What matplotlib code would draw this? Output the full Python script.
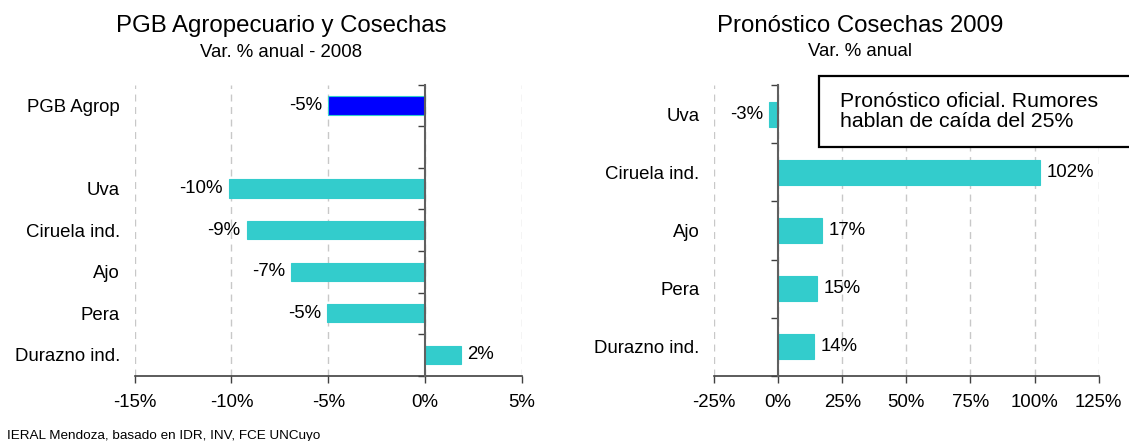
import numpy as np
import matplotlib
matplotlib.use("Agg")
import matplotlib.pyplot as plt
from matplotlib.patches import Rectangle
from matplotlib.ticker import FixedLocator

plt.rcParams['font.family'] = ['Liberation Sans', 'DejaVu Sans']

# ---- data ----
left_labels = ["PGB Agrop", "", "Uva", "Ciruela ind.", "Ajo", "Pera", "Durazno ind."]
left_values = [-5.0, np.nan, -10.15, -9.2, -6.9, -5.05, 1.85]
left_colors = ["#0000FF", "#33CCCC", "#33CCCC", "#33CCCC", "#33CCCC", "#33CCCC", "#33CCCC"]
left_xticks = [-15, -10, -5, 0, 5]

right_labels = ["Uva", "Ciruela ind.", "Ajo", "Pera", "Durazno ind."]
right_values = [-3.4, 102.3, 17.2, 15.3, 14.0]
right_xticks = [-25, 0, 25, 50, 75, 100, 125]

left_title = "PGB Agropecuario y Cosechas"
left_subtitle = "Var. % anual - 2008"
right_title = "Pronóstico Cosechas 2009"
right_subtitle = "Var. % anual"
note_text = "Pronóstico oficial. Rumores\nhablan de caída del 25%"
source_text = "IERAL Mendoza, basado en IDR, INV, FCE UNCuyo"

W, H = 1129, 441
fig = plt.figure(figsize=(W / 100, H / 100), dpi=100)

FS = 13.4
CYAN = "#33CCCC"


def px_rect(x0, x1, ytop, ybot):
    return [x0 / W, (H - ybot) / H, (x1 - x0) / W, (ybot - ytop) / H]


def draw_panel(ax, labels, values, colors, xticks, bar_h):
    n = len(labels)
    y = np.arange(n)
    ax.barh(y, values, height=bar_h, color=colors, edgecolor=CYAN,
            linewidth=0.8, zorder=2)
    ax.set_xlim(xticks[0], xticks[-1])
    ax.set_ylim(n - 0.5, -0.5)
    ax.set_xticks(xticks)
    ax.set_xticklabels([f"{t}%" for t in xticks])
    ax.set_yticks(y)
    ax.set_yticklabels(labels)
    ax.tick_params(axis='y', length=0, pad=10.5, labelsize=FS)
    ax.tick_params(axis='x', length=5, width=1.0, direction='out',
                   color='#404040', pad=8, labelsize=FS)
    for s in ['top', 'right', 'left']:
        ax.spines[s].set_visible(False)
    ax.spines['bottom'].set_color('#404040')
    ax.spines['bottom'].set_linewidth(1.2)
    ax.grid(axis='x', linestyle=(0, (5, 4)), color='#c8c8c8', linewidth=1.0, zorder=0)
    ax.set_axisbelow(True)
    # zero line with category boundary ticks
    loc = (0 - xticks[0]) / (xticks[-1] - xticks[0])
    sec = ax.secondary_yaxis(loc)
    sec.set_alignment('left')
    sec.yaxis.set_major_locator(FixedLocator(np.arange(n + 1) - 0.5))
    sec.tick_params(axis='y', which='both', length=5, width=1.0, direction='out',
                    color='#404040', left=True, right=False,
                    labelleft=False, labelright=False)
    for s in ['left', 'right']:
        sec.spines[s].set_color('#606060')
        sec.spines[s].set_linewidth(1.5)
    sec.set_zorder(5)
    # value labels
    for yi, v in zip(y, values):
        if np.isnan(v):
            continue
        if v < 0:
            ax.annotate(f"{round(v):.0f}%", (v, yi), xytext=(-4.5, 0),
                        textcoords='offset points', ha='right', va='center',
                        fontsize=FS)
        else:
            ax.annotate(f"{round(v):.0f}%", (v, yi), xytext=(4.5, 0),
                        textcoords='offset points', ha='left', va='center',
                        fontsize=FS)


axL = fig.add_axes(px_rect(134.7, 521.7, 84.7, 375.7))
draw_panel(axL, left_labels, left_values, left_colors, left_xticks, 0.44)

axR = fig.add_axes(px_rect(714, 1098.7, 85, 376))
draw_panel(axR, right_labels, right_values, [CYAN] * len(right_labels),
           right_xticks, 0.43)

# titles
fig.text(281 / W, (H - 32.3) / H, left_title, ha='center', va='baseline', fontsize=17.3)
fig.text(281 / W, (H - 57.3) / H, left_subtitle, ha='center', va='baseline', fontsize=FS)
fig.text(860 / W, (H - 31.7) / H, right_title, ha='center', va='baseline', fontsize=17.3)
fig.text(860 / W, (H - 56.5) / H, right_subtitle, ha='center', va='baseline', fontsize=FS)

# note box
box = Rectangle((819 / W, (H - 147.3) / H), (1135 - 819) / W, (147.3 - 75.7) / H,
                transform=fig.transFigure, facecolor='white', edgecolor='black',
                linewidth=1.6, zorder=10)
fig.patches.append(box)
fig.text(840 / W, (H - 111.5) / H, note_text, ha='left', va='center',
         fontsize=15.3, linespacing=1.08, zorder=11)

# source
fig.text(7 / W, (H - 439) / H, source_text, ha='left', va='baseline', fontsize=9.7)

fig.savefig("out.png", dpi=100)
